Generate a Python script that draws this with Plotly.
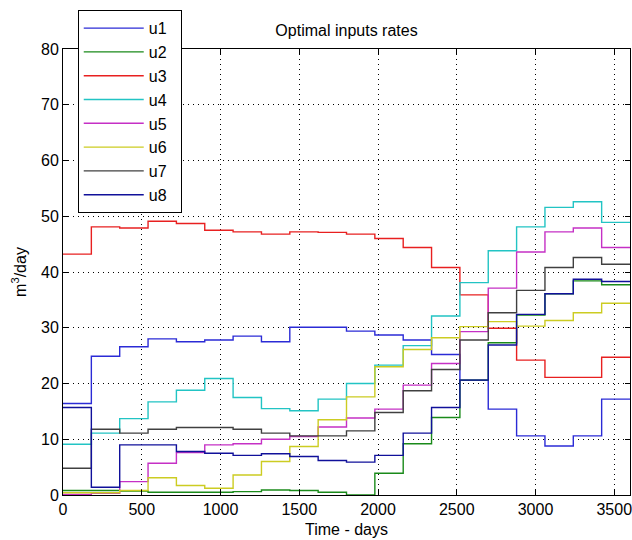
import plotly.graph_objects as go

t_edges = [0, 180, 360, 540, 720, 900, 1080, 1260, 1440, 1620, 1800,
           1980, 2160, 2340, 2520, 2700, 2880, 3060, 3240, 3420, 3600]

u1 = [16.4, 24.9, 26.6, 28.0, 27.5, 27.8, 28.5, 27.5, 30.1, 30.1,
      29.4, 28.7, 27.8, 25.2, 20.6, 15.4, 10.6, 8.8, 10.6, 17.2]
u2 = [0.8, 0.8, 0.7, 0.5, 0.5, 0.5, 0.6, 0.9, 0.8, 0.5,
      0.0, 3.9, 9.2, 13.9, 20.6, 27.3, 32.3, 36.1, 38.4, 37.7]
u3 = [43.2, 48.1, 47.9, 49.1, 48.7, 47.5, 47.2, 46.8, 47.2, 47.1,
      46.8, 46.0, 44.4, 40.8, 35.9, 29.9, 24.2, 21.1, 21.1, 24.7]
u4 = [9.1, 11.1, 13.7, 16.7, 18.8, 20.9, 17.5, 15.5, 15.1, 17.2,
      20.0, 23.3, 26.8, 32.1, 38.1, 43.8, 48.1, 51.6, 52.6, 48.9]
u5 = [0.1, 0.3, 2.4, 5.7, 7.6, 9.0, 9.2, 10.0, 10.5, 12.2,
      13.8, 15.4, 19.7, 23.6, 29.3, 37.1, 43.6, 47.2, 47.9, 44.4]
u6 = [0.4, 0.4, 0.8, 3.1, 1.7, 1.2, 3.6, 6.0, 8.7, 13.5,
      17.6, 23.0, 26.1, 28.2, 30.2, 31.1, 30.3, 31.3, 32.7, 34.4]
u7 = [4.8, 11.8, 11.1, 11.8, 12.1, 12.1, 11.8, 11.1, 10.6, 10.6,
      11.5, 14.8, 18.7, 22.5, 27.8, 32.7, 36.7, 40.8, 42.6, 41.4]
u8 = [15.7, 1.4, 9.0, 9.0, 7.8, 7.5, 7.1, 7.4, 6.9, 6.2,
      5.9, 7.1, 11.1, 15.7, 20.6, 26.9, 32.4, 36.1, 38.7, 38.3]

names = ["u1", "u2", "u3", "u4", "u5", "u6", "u7", "u8"]
series = [u1, u2, u3, u4, u5, u6, u7, u8]
colors = ["#2b2bd6", "#1a8a1a", "#e82020", "#22c4c4", "#c530c5",
          "#cccc22", "#404040", "#10109a"]

x_ticks = [0, 500, 1000, 1500, 2000, 2500, 3000, 3500]
y_ticks = [0, 10, 20, 30, 40, 50, 60, 70, 80]

FONT = "Liberation Sans, Arial, sans-serif"

fig = go.Figure()
for name, vals, col in zip(names, series, colors):
    fig.add_trace(go.Scatter(
        x=t_edges, y=vals + [vals[-1]], mode="lines",
        name=name + "\u00a0\u00a0",
        line=dict(color=col, width=1.4, shape="hv"), legendgroup=name))

axis_common = dict(
    showline=True, linecolor="black", linewidth=1, mirror="ticks",
    ticks="inside", ticklen=5, tickcolor="black",
    showgrid=True, gridcolor="black", gridwidth=1, griddash="1px,4px",
    zeroline=False, ticklabeloverflow="allow",
    tickfont=dict(family=FONT, size=16, color="black"),
)

fig.update_layout(
    width=632, height=540,
    margin=dict(l=63, r=0, t=49, b=45),
    paper_bgcolor="white", plot_bgcolor="white",
    title=dict(text="Optimal inputs rates", x=0.5, xref="paper",
               xanchor="center", y=1 - 30 / 540, yref="container",
               yanchor="middle", font=dict(family=FONT, size=16, color="black")),
    xaxis=dict(range=[0, 3600], tickvals=x_ticks,
               title=dict(text="Time - days", standoff=6,
                          font=dict(family=FONT, size=16, color="black")),
               **axis_common),
    yaxis=dict(range=[0, 80], tickvals=y_ticks,
               title=dict(text="m<sup>3</sup>/day", standoff=10,
                          font=dict(family=FONT, size=16, color="black")),
               **axis_common),
    legend=dict(x=0.026, y=1.087, xanchor="left", yanchor="top",
                bordercolor="black", borderwidth=1, bgcolor="white",
                font=dict(family=FONT, size=16, color="black"),
                tracegroupgap=0, itemwidth=60),
    showlegend=True,
)

fig.write_html("out.html")
